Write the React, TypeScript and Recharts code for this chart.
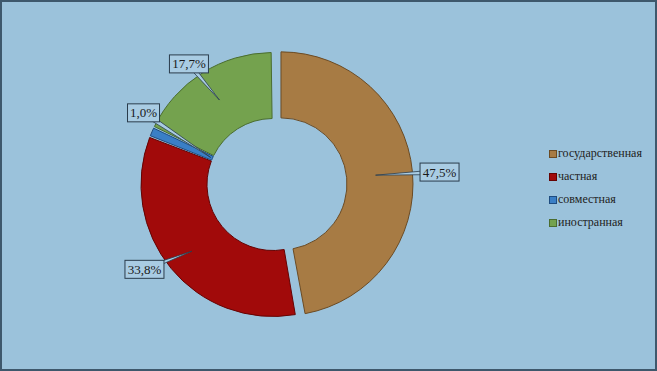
import React from "react";
import { PieChart, Pie, Cell, Legend } from "recharts";

const categories = ["государственная", "частная", "совместная", "иностранная"];
const shares = [47.5, 33.8, 1.0, 17.7];
const shareLabels = ["47,5%", "33,8%", "1,0%", "17,7%"];

const colors = ["#a77b44", "#a10a0a", "#3a7fc6", "#74a24e"];
const edges = ["#6b4b24", "#650303", "#1e4c80", "#4a6d30"];

const data = categories.map((name, i) => ({ name, value: shares[i] }));

const FONT = "'Liberation Serif', 'Times New Roman', serif";
const RAD = Math.PI / 180;

// label placement: extra radius of the box beyond the outer edge, angular nudge, and tip radius
const boxGap = [27, 22, 16, 15];
const boxNudge = [-1, -6, -5.5, 2.5];
const tipRadius = [95, 105, 68, 100];

const CX = 271;
const CY = 182.5;
const OUTER = 132;
const INNER = 66;
const EXPLODE = 8;

const total = shares.reduce((a, b) => a + b, 0);
const tanMid = 90 - (shares[0] / total) * 180;
const tanDx = EXPLODE * Math.cos(tanMid * RAD);
const tanDy = -EXPLODE * Math.sin(tanMid * RAD);

const makeLabel = (only: (i: number) => boolean) => (props: any) => {
  const { cx, cy, midAngle, outerRadius, index } = props;
  if (!only(index)) return null;
  const a = (midAngle + boxNudge[index]) * RAD;
  const rb = outerRadius + boxGap[index];
  const bx = cx + rb * Math.cos(a);
  const by = cy - rb * Math.sin(a);
  const t = midAngle * RAD;
  const tx = cx + tipRadius[index] * Math.cos(t);
  const ty = cy - tipRadius[index] * Math.sin(t);
  const text = shareLabels[index];
  const w = text.length * 7 + 4;
  const h = 18;
  const dx = tx - bx;
  const dy = ty - by;
  const len = Math.sqrt(dx * dx + dy * dy) || 1;
  const px = (-dy / len) * 2.5;
  const py = (dx / len) * 2.5;
  return (
    <g key={`lab-${index}`}>
      <polygon
        points={`${bx + px},${by + py} ${tx},${ty} ${bx - px},${by - py}`}
        fill="#a9cce3"
        stroke="#2a3c4c"
        strokeWidth={0.8}
      />
      <rect x={bx - w / 2} y={by - h / 2} width={w} height={h} fill="#a9cce3" stroke="#2a3c4c" strokeWidth={1} />
      <text x={bx} y={by + 4.5} textAnchor="middle" fontFamily={FONT} fontSize={13} fill="#1a1a1a">
        {text}
      </text>
    </g>
  );
};

const LegendBox = () => (
  <div style={{ fontFamily: FONT, fontSize: 12, color: "#222" }}>
    {categories.map((c, i) => (
      <div key={c} style={{ display: "flex", alignItems: "center", height: 23 }}>
        <span
          style={{
            display: "inline-block",
            width: 6,
            height: 6,
            background: colors[i],
            border: `1px solid ${edges[i]}`,
            marginRight: 1,
          }}
        />
        {c}
      </div>
    ))}
  </div>
);

export default function App() {
  return (
    <div
      style={{
        width: 657,
        height: 371,
        boxSizing: "border-box",
        border: "2px solid #3e586c",
        background: "#9bc2db",
        position: "relative",
      }}
    >
      <style>{`body{margin:0}`}</style>
      <PieChart width={653} height={367} margin={{ top: 0, right: 0, bottom: 0, left: 0 }}>
        <Pie
          data={data}
          dataKey="value"
          nameKey="name"
          cx={CX}
          cy={CY}
          innerRadius={INNER}
          outerRadius={OUTER}
          startAngle={90}
          endAngle={-270}
          paddingAngle={0.8}
          label={makeLabel((i) => i !== 0)}
          labelLine={false}
          isAnimationActive={false}
        >
          {data.map((d, i) => (
            <Cell
              key={d.name}
              fill={i === 0 ? "none" : colors[i]}
              stroke={i === 0 ? "none" : edges[i]}
              strokeWidth={1}
            />
          ))}
        </Pie>
        <Pie
          data={data}
          dataKey="value"
          nameKey="name"
          cx={CX + tanDx}
          cy={CY + tanDy}
          innerRadius={INNER}
          outerRadius={OUTER}
          startAngle={90}
          endAngle={-270}
          paddingAngle={0.8}
          label={makeLabel((i) => i === 0)}
          labelLine={false}
          isAnimationActive={false}
        >
          {data.map((d, i) => (
            <Cell
              key={d.name}
              fill={i === 0 ? colors[0] : "none"}
              stroke={i === 0 ? edges[0] : "none"}
              strokeWidth={1}
            />
          ))}
        </Pie>
        <Legend
          layout="vertical"
          align="right"
          verticalAlign="middle"
          content={<LegendBox />}
          wrapperStyle={{ left: 547, top: 140, width: 110 }}
        />
      </PieChart>
    </div>
  );
}
